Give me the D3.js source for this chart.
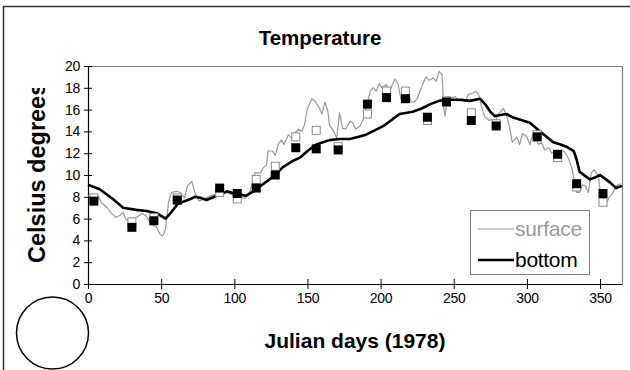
<!DOCTYPE html>
<html>
<head>
<meta charset="utf-8">
<script src="https://cdn.jsdelivr.net/npm/d3@7"></script>
<style>
  html, body { margin: 0; padding: 0; background: #fff; }
  svg { display: block; font-family: "Liberation Sans", Arial, sans-serif; }
</style>
</head>
<body>
<svg id="chart" width="630" height="370"></svg>
<script>
// Daily surface temperature (thin grey trace)
const surfaceDays  = [0,4,7,9,13,16,19,22,24,26,28,30,33,37,40,43,47,49,51,53,55,57,61,63,66,68,71,73,76,81,86,90,95,100,104,108,111,114,118,120,122,123,126,128,130,132,134,137,139,141,144,146,148,150,153,155,158,160,162,164,165,168,170,172,174,176,179,181,183,186,188,190,193,195,197,199,201,204,206,208,210,212,214,216,218,221,223,225,227,229,231,233,236,238,240,242,243,244,246,249,251,253,256,258,260,263,265,267,269,271,274,276,278,281,284,286,288,290,293,295,297,300,302,304,306,308,310,312,315,317,319,321,324,327,329,331,333,334,336,338,340,342,344,346,349,350,351,354,356,358,361,364];
const surfaceTemps = [8.1,8.2,8.1,7.5,7.0,6.5,6.1,6.3,6.6,5.9,5.8,6.0,6.1,6.5,6.2,5.5,5.2,4.6,4.4,5.0,7.5,8.4,8.5,8.4,7.9,9.0,9.4,8.4,7.6,7.9,8.2,8.1,8.4,8.1,7.9,7.9,8.6,10.2,10.2,10.7,10.9,12.2,12.2,11.8,12.8,13.2,12.8,13.7,13.4,13.8,14.2,14.0,14.6,16.1,17.0,16.8,16.2,15.6,16.7,15.8,14.6,14.0,13.4,15.7,14.3,14.2,14.9,14.8,14.2,14.5,15.1,16.1,17.7,18.0,17.7,18.4,18.0,18.3,17.5,18.3,18.8,18.3,16.9,18.0,17.7,16.7,16.7,17.0,17.7,18.4,19.0,18.7,18.9,18.6,19.5,19.2,16.4,15.4,17.2,17.1,17.2,16.8,17.0,16.8,17.4,17.5,17.7,17.4,16.3,15.4,15.0,15.1,14.8,15.7,16.1,15.5,14.5,13.0,13.5,12.8,13.8,13.5,12.8,13.7,13.4,12.8,13.0,12.3,12.5,12.0,12.2,11.9,12.3,11.9,11.3,10.5,9.0,8.4,8.4,9.1,9.0,8.4,10.2,10.5,9.9,8.5,7.3,7.3,7.9,8.2,9.0,9.2];

// Daily bottom temperature (thick black trace)
const bottomDays  = [0,8,17,24,33,40,47,53,57,61,66,70,73,77,81,88,95,100,104,108,112,117,124,128,133,140,145,150,156,165,172,179,185,190,196,202,208,213,222,228,234,240,245,254,261,268,272,275,278,282,286,290,295,302,309,318,323,327,332,334,336,340,343,347,350,354,357,361,365];
const bottomTemps = [9.1,8.7,7.8,7.0,6.8,6.7,6.5,6.0,6.6,7.3,7.6,7.8,8.0,7.9,7.7,8.1,8.5,8.3,8.2,8.1,8.4,8.9,9.6,10.0,10.7,11.3,11.6,12.2,12.8,13.2,13.3,13.3,13.5,13.7,14.1,14.5,15.1,15.6,15.8,16.1,16.5,16.8,16.9,16.9,16.8,17.0,16.4,15.8,15.4,15.5,15.6,15.3,15.1,14.8,14.0,13.0,12.8,12.6,12.2,11.4,10.3,9.9,9.6,9.8,10.0,9.6,9.3,8.8,9.0];

// Field samples: open squares = surface, filled squares = bottom
const sampleDays     = [4,30,45,61,90,102,115,128,142,156,171,191,204,217,232,245,262,279,307,321,334,352];
const surfaceSamples = [7.9,5.7,6.1,7.9,8.4,7.8,9.6,10.8,13.5,14.1,12.6,15.6,17.7,17.7,15.0,16.8,15.7,14.7,13.7,11.6,8.9,7.5];
const bottomSamples  = [7.6,5.2,5.8,7.7,8.8,8.3,8.8,10.0,12.5,12.4,12.3,16.5,17.1,17.0,15.3,16.7,15.0,14.5,13.5,11.9,9.2,8.3];

const xTicks = [0,50,100,150,200,250,300,350];
const yTicks = [0,2,4,6,8,10,12,14,16,18,20];

const svg = d3.select("#chart");
const plot = { left: 88, right: 622, top: 66, bottom: 284 };

const x = d3.scaleLinear().domain([0, 365]).range([plot.left, plot.right]);
const y = d3.scaleLinear().domain([0, 20]).range([plot.bottom, plot.top]);

// Chart frame
svg.append("rect")
  .attr("x", 3.5).attr("y", 6.5)
  .attr("width", 660).attr("height", 400)
  .attr("fill", "#fff").attr("stroke", "#333").attr("stroke-width", 1.5);

// Plot area frame (top and right edges)
svg.append("path")
  .attr("d", `M${plot.left},${plot.top + 0.5}H${plot.right + 0.5}V${plot.bottom}`)
  .attr("fill", "none").attr("stroke", "#808080").attr("stroke-width", 1.2);

// Title
svg.append("text")
  .attr("x", 320).attr("y", 45)
  .attr("text-anchor", "middle")
  .attr("font-weight", "bold").attr("font-size", 20.5)
  .text("Temperature");

// Axes with ticks crossing the axis line
const xAxis = d3.axisBottom(x).tickValues(xTicks).tickSize(0).tickPadding(9);
const gx = svg.append("g").attr("transform", `translate(0,${plot.bottom})`).call(xAxis);
gx.select(".domain").attr("stroke", "#000").attr("stroke-width", 1.2);
gx.selectAll(".tick").append("line").attr("y1", -5).attr("y2", 5).attr("stroke", "#000");
gx.selectAll("text").attr("font-size", 14).attr("font-family", "Liberation Sans, Arial, sans-serif")
  .attr("letter-spacing", -0.3).attr("fill", "#000");

const yAxis = d3.axisLeft(y).tickValues(yTicks).tickSize(0).tickPadding(8);
const gy = svg.append("g").attr("transform", `translate(${plot.left},0)`).call(yAxis);
gy.select(".domain").attr("stroke", "#000").attr("stroke-width", 1.2);
gy.selectAll(".tick").append("line").attr("x1", -4).attr("x2", 4).attr("stroke", "#000");
gy.selectAll("text").attr("font-size", 14).attr("font-family", "Liberation Sans, Arial, sans-serif")
  .attr("letter-spacing", -0.3).attr("fill", "#000");

// Axis titles
svg.append("text")
  .attr("x", 355).attr("y", 348)
  .attr("text-anchor", "middle")
  .attr("font-weight", "bold").attr("font-size", 21)
  .text("Julian days (1978)");

svg.append("clipPath").attr("id", "ytitle-clip")
  .append("rect").attr("x", 0).attr("y", 88).attr("width", 88).attr("height", 200);
svg.append("g").attr("clip-path", "url(#ytitle-clip)")
  .append("text")
  .attr("transform", "translate(45,263) rotate(-90)")
  .attr("text-anchor", "start")
  .attr("font-weight", "bold").attr("font-size", 23.5)
  .text("Celsius degrees");

// Traces
const line = d3.line().x(d => x(d[0])).y(d => y(d[1]));

svg.append("path")
  .datum(d3.zip(surfaceDays, surfaceTemps))
  .attr("d", line)
  .attr("fill", "none").attr("stroke", "#9a9a9a").attr("stroke-width", 1.2)
  .attr("stroke-linejoin", "round");

svg.append("path")
  .datum(d3.zip(bottomDays, bottomTemps))
  .attr("d", line)
  .attr("fill", "none").attr("stroke", "#000").attr("stroke-width", 2.6)
  .attr("stroke-linejoin", "round");

// Sample markers
const sq = 8;
svg.append("g").selectAll("rect")
  .data(d3.zip(sampleDays, surfaceSamples))
  .join("rect")
  .attr("x", d => x(d[0]) - sq / 2).attr("y", d => y(d[1]) - sq / 2)
  .attr("width", sq).attr("height", sq)
  .attr("fill", "#fff").attr("stroke", "#8c8c8c").attr("stroke-width", 1);

svg.append("g").selectAll("rect")
  .data(d3.zip(sampleDays, bottomSamples))
  .join("rect")
  .attr("x", d => x(d[0]) - (sq + 1) / 2).attr("y", d => y(d[1]) - (sq + 1) / 2)
  .attr("width", sq + 1).attr("height", sq + 1)
  .attr("fill", "#000");

// Legend
const legend = svg.append("g");
legend.append("rect")
  .attr("x", 470.5).attr("y", 210.5).attr("width", 119).attr("height", 64)
  .attr("fill", "#fff").attr("stroke", "#808080").attr("stroke-width", 1);
const entries = [
  { label: "surface", color: "#9a9a9a", width: 1.2, text: "#9a9a9a" },
  { label: "bottom",  color: "#000",    width: 2.6, text: "#000" }
];
entries.forEach((e, i) => {
  const ly = 229 + i * 31;
  legend.append("line")
    .attr("x1", 478).attr("x2", 514).attr("y1", ly).attr("y2", ly)
    .attr("stroke", e.color).attr("stroke-width", e.width);
  legend.append("text")
    .attr("x", 515).attr("y", ly + 7)
    .attr("font-size", 21).attr("letter-spacing", -0.3)
    .attr("fill", e.text)
    .text(e.label);
});

// Decorative circle in the lower-left corner
svg.append("ellipse")
  .attr("cx", 52.5).attr("cy", 333).attr("rx", 36).attr("ry", 36)
  .attr("fill", "none").attr("stroke", "#000").attr("stroke-width", 1.5);
</script>
</body>
</html>
